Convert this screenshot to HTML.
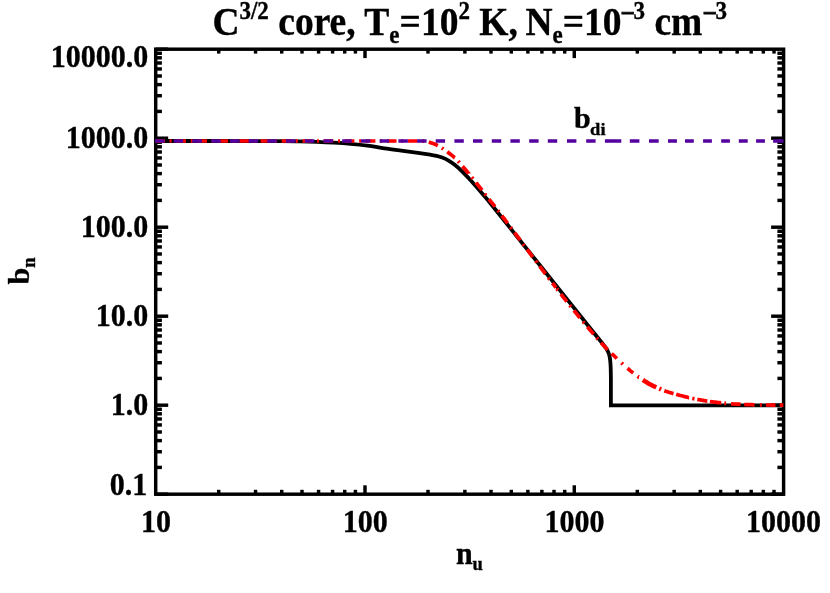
<!DOCTYPE html>
<html><head><meta charset="utf-8"><title>chart</title>
<style>html,body{margin:0;padding:0;background:#fff;}body{width:830px;height:593px;overflow:hidden;}svg{display:block;will-change:transform;}text{font-family:"Liberation Serif",serif;font-weight:bold;fill:#000;stroke:#000;stroke-width:0.35px;}</style>
</head><body>
<svg width="830" height="593" viewBox="0 0 830 593">
<rect x="0" y="0" width="830" height="593" fill="#ffffff"/>
<g stroke="#000" stroke-width="3.45" fill="none">
<line x1="218.71" y1="494.2" x2="218.71" y2="489.8"/>
<line x1="218.71" y1="49.2" x2="218.71" y2="53.6"/>
<line x1="255.56" y1="494.2" x2="255.56" y2="489.8"/>
<line x1="255.56" y1="49.2" x2="255.56" y2="53.6"/>
<line x1="281.71" y1="494.2" x2="281.71" y2="489.8"/>
<line x1="281.71" y1="49.2" x2="281.71" y2="53.6"/>
<line x1="301.99" y1="494.2" x2="301.99" y2="489.8"/>
<line x1="301.99" y1="49.2" x2="301.99" y2="53.6"/>
<line x1="318.57" y1="494.2" x2="318.57" y2="489.8"/>
<line x1="318.57" y1="49.2" x2="318.57" y2="53.6"/>
<line x1="332.58" y1="494.2" x2="332.58" y2="489.8"/>
<line x1="332.58" y1="49.2" x2="332.58" y2="53.6"/>
<line x1="344.72" y1="494.2" x2="344.72" y2="489.8"/>
<line x1="344.72" y1="49.2" x2="344.72" y2="53.6"/>
<line x1="355.42" y1="494.2" x2="355.42" y2="489.8"/>
<line x1="355.42" y1="49.2" x2="355.42" y2="53.6"/>
<line x1="365.00" y1="494.2" x2="365.00" y2="485.3"/>
<line x1="365.00" y1="49.2" x2="365.00" y2="58.1"/>
<line x1="428.01" y1="494.2" x2="428.01" y2="489.8"/>
<line x1="428.01" y1="49.2" x2="428.01" y2="53.6"/>
<line x1="464.86" y1="494.2" x2="464.86" y2="489.8"/>
<line x1="464.86" y1="49.2" x2="464.86" y2="53.6"/>
<line x1="491.01" y1="494.2" x2="491.01" y2="489.8"/>
<line x1="491.01" y1="49.2" x2="491.01" y2="53.6"/>
<line x1="511.29" y1="494.2" x2="511.29" y2="489.8"/>
<line x1="511.29" y1="49.2" x2="511.29" y2="53.6"/>
<line x1="527.87" y1="494.2" x2="527.87" y2="489.8"/>
<line x1="527.87" y1="49.2" x2="527.87" y2="53.6"/>
<line x1="541.88" y1="494.2" x2="541.88" y2="489.8"/>
<line x1="541.88" y1="49.2" x2="541.88" y2="53.6"/>
<line x1="554.02" y1="494.2" x2="554.02" y2="489.8"/>
<line x1="554.02" y1="49.2" x2="554.02" y2="53.6"/>
<line x1="564.72" y1="494.2" x2="564.72" y2="489.8"/>
<line x1="564.72" y1="49.2" x2="564.72" y2="53.6"/>
<line x1="574.30" y1="494.2" x2="574.30" y2="485.3"/>
<line x1="574.30" y1="49.2" x2="574.30" y2="58.1"/>
<line x1="637.31" y1="494.2" x2="637.31" y2="489.8"/>
<line x1="637.31" y1="49.2" x2="637.31" y2="53.6"/>
<line x1="674.16" y1="494.2" x2="674.16" y2="489.8"/>
<line x1="674.16" y1="49.2" x2="674.16" y2="53.6"/>
<line x1="700.31" y1="494.2" x2="700.31" y2="489.8"/>
<line x1="700.31" y1="49.2" x2="700.31" y2="53.6"/>
<line x1="720.59" y1="494.2" x2="720.59" y2="489.8"/>
<line x1="720.59" y1="49.2" x2="720.59" y2="53.6"/>
<line x1="737.17" y1="494.2" x2="737.17" y2="489.8"/>
<line x1="737.17" y1="49.2" x2="737.17" y2="53.6"/>
<line x1="751.18" y1="494.2" x2="751.18" y2="489.8"/>
<line x1="751.18" y1="49.2" x2="751.18" y2="53.6"/>
<line x1="763.32" y1="494.2" x2="763.32" y2="489.8"/>
<line x1="763.32" y1="49.2" x2="763.32" y2="53.6"/>
<line x1="774.02" y1="494.2" x2="774.02" y2="489.8"/>
<line x1="774.02" y1="49.2" x2="774.02" y2="53.6"/>
<line x1="155.7" y1="494.20" x2="168.2" y2="494.20"/>
<line x1="783.6" y1="494.20" x2="771.1" y2="494.20"/>
<line x1="155.7" y1="467.41" x2="161.89999999999998" y2="467.41"/>
<line x1="783.6" y1="467.41" x2="777.4" y2="467.41"/>
<line x1="155.7" y1="451.74" x2="161.89999999999998" y2="451.74"/>
<line x1="783.6" y1="451.74" x2="777.4" y2="451.74"/>
<line x1="155.7" y1="440.62" x2="161.89999999999998" y2="440.62"/>
<line x1="783.6" y1="440.62" x2="777.4" y2="440.62"/>
<line x1="155.7" y1="431.99" x2="161.89999999999998" y2="431.99"/>
<line x1="783.6" y1="431.99" x2="777.4" y2="431.99"/>
<line x1="155.7" y1="424.94" x2="161.89999999999998" y2="424.94"/>
<line x1="783.6" y1="424.94" x2="777.4" y2="424.94"/>
<line x1="155.7" y1="418.99" x2="161.89999999999998" y2="418.99"/>
<line x1="783.6" y1="418.99" x2="777.4" y2="418.99"/>
<line x1="155.7" y1="413.82" x2="161.89999999999998" y2="413.82"/>
<line x1="783.6" y1="413.82" x2="777.4" y2="413.82"/>
<line x1="155.7" y1="409.27" x2="161.89999999999998" y2="409.27"/>
<line x1="783.6" y1="409.27" x2="777.4" y2="409.27"/>
<line x1="155.7" y1="405.20" x2="168.2" y2="405.20"/>
<line x1="783.6" y1="405.20" x2="771.1" y2="405.20"/>
<line x1="155.7" y1="378.41" x2="161.89999999999998" y2="378.41"/>
<line x1="783.6" y1="378.41" x2="777.4" y2="378.41"/>
<line x1="155.7" y1="362.74" x2="161.89999999999998" y2="362.74"/>
<line x1="783.6" y1="362.74" x2="777.4" y2="362.74"/>
<line x1="155.7" y1="351.62" x2="161.89999999999998" y2="351.62"/>
<line x1="783.6" y1="351.62" x2="777.4" y2="351.62"/>
<line x1="155.7" y1="342.99" x2="161.89999999999998" y2="342.99"/>
<line x1="783.6" y1="342.99" x2="777.4" y2="342.99"/>
<line x1="155.7" y1="335.94" x2="161.89999999999998" y2="335.94"/>
<line x1="783.6" y1="335.94" x2="777.4" y2="335.94"/>
<line x1="155.7" y1="329.99" x2="161.89999999999998" y2="329.99"/>
<line x1="783.6" y1="329.99" x2="777.4" y2="329.99"/>
<line x1="155.7" y1="324.82" x2="161.89999999999998" y2="324.82"/>
<line x1="783.6" y1="324.82" x2="777.4" y2="324.82"/>
<line x1="155.7" y1="320.27" x2="161.89999999999998" y2="320.27"/>
<line x1="783.6" y1="320.27" x2="777.4" y2="320.27"/>
<line x1="155.7" y1="316.20" x2="168.2" y2="316.20"/>
<line x1="783.6" y1="316.20" x2="771.1" y2="316.20"/>
<line x1="155.7" y1="289.41" x2="161.89999999999998" y2="289.41"/>
<line x1="783.6" y1="289.41" x2="777.4" y2="289.41"/>
<line x1="155.7" y1="273.74" x2="161.89999999999998" y2="273.74"/>
<line x1="783.6" y1="273.74" x2="777.4" y2="273.74"/>
<line x1="155.7" y1="262.62" x2="161.89999999999998" y2="262.62"/>
<line x1="783.6" y1="262.62" x2="777.4" y2="262.62"/>
<line x1="155.7" y1="253.99" x2="161.89999999999998" y2="253.99"/>
<line x1="783.6" y1="253.99" x2="777.4" y2="253.99"/>
<line x1="155.7" y1="246.94" x2="161.89999999999998" y2="246.94"/>
<line x1="783.6" y1="246.94" x2="777.4" y2="246.94"/>
<line x1="155.7" y1="240.99" x2="161.89999999999998" y2="240.99"/>
<line x1="783.6" y1="240.99" x2="777.4" y2="240.99"/>
<line x1="155.7" y1="235.82" x2="161.89999999999998" y2="235.82"/>
<line x1="783.6" y1="235.82" x2="777.4" y2="235.82"/>
<line x1="155.7" y1="231.27" x2="161.89999999999998" y2="231.27"/>
<line x1="783.6" y1="231.27" x2="777.4" y2="231.27"/>
<line x1="155.7" y1="227.20" x2="168.2" y2="227.20"/>
<line x1="783.6" y1="227.20" x2="771.1" y2="227.20"/>
<line x1="155.7" y1="200.41" x2="161.89999999999998" y2="200.41"/>
<line x1="783.6" y1="200.41" x2="777.4" y2="200.41"/>
<line x1="155.7" y1="184.74" x2="161.89999999999998" y2="184.74"/>
<line x1="783.6" y1="184.74" x2="777.4" y2="184.74"/>
<line x1="155.7" y1="173.62" x2="161.89999999999998" y2="173.62"/>
<line x1="783.6" y1="173.62" x2="777.4" y2="173.62"/>
<line x1="155.7" y1="164.99" x2="161.89999999999998" y2="164.99"/>
<line x1="783.6" y1="164.99" x2="777.4" y2="164.99"/>
<line x1="155.7" y1="157.94" x2="161.89999999999998" y2="157.94"/>
<line x1="783.6" y1="157.94" x2="777.4" y2="157.94"/>
<line x1="155.7" y1="151.99" x2="161.89999999999998" y2="151.99"/>
<line x1="783.6" y1="151.99" x2="777.4" y2="151.99"/>
<line x1="155.7" y1="146.82" x2="161.89999999999998" y2="146.82"/>
<line x1="783.6" y1="146.82" x2="777.4" y2="146.82"/>
<line x1="155.7" y1="142.27" x2="161.89999999999998" y2="142.27"/>
<line x1="783.6" y1="142.27" x2="777.4" y2="142.27"/>
<line x1="155.7" y1="138.20" x2="168.2" y2="138.20"/>
<line x1="783.6" y1="138.20" x2="771.1" y2="138.20"/>
<line x1="155.7" y1="111.41" x2="161.89999999999998" y2="111.41"/>
<line x1="783.6" y1="111.41" x2="777.4" y2="111.41"/>
<line x1="155.7" y1="95.74" x2="161.89999999999998" y2="95.74"/>
<line x1="783.6" y1="95.74" x2="777.4" y2="95.74"/>
<line x1="155.7" y1="84.62" x2="161.89999999999998" y2="84.62"/>
<line x1="783.6" y1="84.62" x2="777.4" y2="84.62"/>
<line x1="155.7" y1="75.99" x2="161.89999999999998" y2="75.99"/>
<line x1="783.6" y1="75.99" x2="777.4" y2="75.99"/>
<line x1="155.7" y1="68.94" x2="161.89999999999998" y2="68.94"/>
<line x1="783.6" y1="68.94" x2="777.4" y2="68.94"/>
<line x1="155.7" y1="62.99" x2="161.89999999999998" y2="62.99"/>
<line x1="783.6" y1="62.99" x2="777.4" y2="62.99"/>
<line x1="155.7" y1="57.82" x2="161.89999999999998" y2="57.82"/>
<line x1="783.6" y1="57.82" x2="777.4" y2="57.82"/>
<line x1="155.7" y1="53.27" x2="161.89999999999998" y2="53.27"/>
<line x1="783.6" y1="53.27" x2="777.4" y2="53.27"/>
<line x1="155.7" y1="49.2" x2="168.2" y2="49.2"/>
<rect x="155.7" y="49.2" width="627.9000000000001" height="445.0" stroke-linejoin="miter"/>
</g>
<clipPath id="c"><rect x="155.0" y="49.2" width="628.6000000000001" height="445.0"/></clipPath>
<g clip-path="url(#c)" fill="none">
<path d="M156.00,141.00 C163.33,141.00 184.33,140.99 200.00,141.00 C215.67,141.01 236.67,141.02 250.00,141.05 C263.33,141.08 271.67,141.14 280.00,141.20 C288.33,141.26 293.85,141.28 300.00,141.40 C306.15,141.52 311.28,141.68 316.90,141.90 C322.52,142.12 328.08,142.37 333.70,142.70 C339.32,143.03 344.97,143.40 350.60,143.90 C356.23,144.40 361.88,144.97 367.50,145.70 C373.12,146.43 378.68,147.48 384.30,148.30 C389.92,149.12 395.58,149.85 401.20,150.60 C406.82,151.35 413.20,152.13 418.00,152.80 C422.80,153.47 426.92,154.08 430.00,154.60 C433.08,155.12 434.47,155.40 436.50,155.90 C438.53,156.40 440.25,156.85 442.20,157.60 C444.15,158.35 446.07,159.15 448.20,160.40 C450.33,161.65 452.73,163.32 455.00,165.10 C457.27,166.88 459.55,168.95 461.80,171.10 C464.05,173.25 466.25,175.60 468.50,178.00 C470.75,180.40 473.05,182.97 475.30,185.50 C477.55,188.03 479.88,190.73 482.00,193.20 C484.12,195.67 485.87,197.70 488.00,200.30 C490.13,202.90 489.47,202.12 494.80,208.80 C500.13,215.48 509.13,226.75 520.00,240.35 C530.87,253.95 548.33,275.79 560.00,290.40 C571.67,305.01 583.25,319.57 590.00,328.00 C596.75,336.43 597.83,337.63 600.50,341.00 C603.17,344.37 604.68,346.28 606.00,348.20 C607.32,350.12 607.80,351.12 608.40,352.50 C609.00,353.88 609.28,355.00 609.60,356.50 C609.92,358.00 610.12,359.58 610.30,361.50 C610.48,363.42 610.60,364.92 610.70,368.00 C610.80,371.08 610.87,373.78 610.90,380.00 C610.93,386.22 610.90,401.08 610.90,405.30 L783.6,405.3" stroke="#000" stroke-width="3.8" stroke-linejoin="miter"/>
<path d="M156.0,141.0 L159.3,141.0 L163.1,141.0 L164.9,141.0 M169.6,141.0 L171.6,141.0 M176.3,141.0 L182.9,141.0 L185.9,141.0 M190.7,141.0 L192.7,141.0 M197.4,141.0 L201.4,141.0 L207.0,141.0 M211.7,141.0 L213.7,141.0 M218.5,141.0 L221.8,141.0 L228.1,141.0 M232.8,141.0 L234.8,141.0 M239.5,141.0 L242.9,141.0 L249.1,141.0 M253.8,141.0 L255.8,141.0 M260.6,141.0 L263.7,141.0 L270.1,141.0 M274.9,141.0 L276.9,141.0 M281.6,141.0 L283.1,141.0 L289.1,141.0 L291.2,141.0 M295.9,141.0 L297.9,141.0 M302.6,141.0 L305.1,141.0 L310.1,141.0 L312.2,141.0 M317.0,141.0 L319.0,141.0 M323.7,141.0 L325.2,141.0 L330.1,141.0 L333.3,141.0 M338.0,141.0 L339.7,141.0 L340.0,141.0 M344.8,141.0 L349.1,141.0 L353.6,141.0 L354.4,141.0 M359.1,141.0 L361.1,141.0 M365.8,141.0 L370.7,141.0 L374.6,141.0 L375.4,141.0 M380.1,141.0 L382.0,141.0 L382.1,141.0 M386.9,141.0 L388.8,141.0 L391.9,141.0 L394.8,141.0 L396.5,141.0 M401.2,141.0 L403.2,141.0 M407.9,141.0 L409.9,141.0 L411.6,141.0 L413.1,141.0 L414.3,141.0 L415.8,141.0 L417.2,141.0 L417.5,141.0 M422.2,141.0 L423.5,141.1 L424.2,141.1 M428.8,142.1 L430.1,142.5 L431.3,142.9 L432.5,143.3 L433.8,143.7 L435.1,144.2 L436.4,144.8 L437.6,145.5 L437.8,145.6 M441.8,148.0 L443.0,148.8 L443.4,149.1 M447.3,151.8 L448.5,152.7 L449.5,153.5 L450.5,154.3 L451.6,155.1 L452.6,155.9 L453.5,156.7 L454.6,157.7 L454.8,157.8 M458.1,161.2 L459.1,162.3 L459.4,162.7 M462.5,166.3 L463.3,167.2 L464.2,168.3 L465.1,169.3 L466.0,170.3 L466.9,171.4 L467.8,172.5 L468.7,173.5 L468.7,173.6 M471.7,177.2 L472.8,178.5 L473.0,178.8 M476.0,182.5 L476.7,183.5 L477.5,184.4 L478.3,185.5 L479.1,186.5 L480.0,187.6 L480.9,188.7 L481.8,189.9 L481.9,190.1 M484.8,193.8 L485.6,194.8 L486.0,195.3 M488.9,199.1 L490.0,200.4 L491.3,202.1 L492.6,203.7 L494.0,205.4 L494.9,206.6 M497.8,210.3 L498.7,211.5 L499.0,211.9 M501.9,215.7 L503.2,217.5 L504.6,219.2 L505.9,221.0 L507.2,222.7 L507.7,223.3 M510.5,227.1 L511.2,228.1 L511.7,228.7 M514.5,232.5 L515.3,233.6 L516.7,235.4 L518.1,237.3 L519.5,239.2 L520.3,240.2 M523.1,244.0 L523.8,245.0 L524.2,245.6 M527.1,249.4 L528.1,250.7 L529.5,252.6 L530.9,254.5 L532.2,256.3 L532.8,257.1 M535.6,260.9 L536.8,262.4 L536.8,262.5 M539.7,266.2 L540.5,267.3 L541.7,268.9 L542.9,270.5 L544.2,272.1 L545.4,273.8 L545.5,273.9 M548.3,277.6 L549.3,279.0 L549.6,279.2 M552.4,283.0 L553.6,284.5 L555.0,286.4 L556.0,287.7 M556.8,288.7 L557.9,290.2 L558.0,290.3 M560.9,294.0 L562.1,295.6 L563.4,297.3 L564.7,298.9 L565.9,300.4 L566.8,301.6 M569.7,305.3 L570.7,306.5 L571.0,306.8 M573.9,310.5 L574.8,311.6 L575.8,312.8 L576.9,314.1 L578.0,315.5 L579.1,316.8 L580.0,318.0 M583.0,321.6 L584.2,323.0 L584.3,323.1 M587.3,326.8 L588.2,327.8 L589.4,329.2 L590.5,330.5 L591.7,331.9 L592.9,333.3 L593.6,334.1 M596.7,337.6 L597.8,338.9 L598.0,339.1 M601.1,342.7 L602.0,343.7 L603.2,344.9 L604.3,346.1 L605.3,347.2 L606.3,348.2 L607.2,349.2 L607.7,349.7 M611.6,353.5 L612.5,354.4 L613.7,355.4 L614.7,356.5 L615.8,357.5 L616.8,358.4 L616.9,358.5 M621.4,362.8 L622.5,363.8 L622.9,364.2 M627.5,368.3 L628.6,369.2 L629.6,370.1 L630.5,370.9 L631.5,371.6 L632.7,372.6 L633.2,373.0 M637.6,376.2 L638.8,377.1 L638.9,377.1 M664.3,390.7 L665.6,391.2 L666.9,391.6 L668.1,392.0 L669.4,392.4 L670.7,392.8 L672.1,393.2 L673.5,393.6 M676.2,394.3 L677.5,394.7 L679.0,395.1 L680.4,395.5 L681.9,395.8 L683.3,396.2 L684.8,396.6 L686.1,396.9 L687.5,397.3 L688.9,397.6 L689.1,397.6 M692.3,398.4 L693.8,398.7 L694.5,398.8 M697.3,399.4 L698.8,399.7 L700.2,399.9 L701.7,400.2 L703.1,400.4 L704.5,400.7 L705.9,400.9 L707.2,401.1 L707.3,401.1 M709.9,401.5 L711.1,401.7 L712.5,401.9 L714.0,402.1 L715.4,402.2 L716.8,402.4 L718.2,402.6 L719.6,402.7 L721.1,402.9 L721.3,402.9 M724.3,403.2 L725.6,403.4 L726.1,403.4 M731.0,403.8 L732.4,403.9 L733.8,404.0 L735.4,404.1 L736.6,404.1 L737.9,404.2 L739.3,404.2 L740.6,404.3 M744.2,404.5 L746.0,404.5 L747.5,404.6 L749.0,404.6 L750.5,404.7 L751.9,404.7 L753.3,404.8 L754.5,404.8 M759.9,404.9 L761.7,404.9 M765.9,405.0 L767.3,405.0 L768.7,405.0 L770.1,405.0 L771.6,405.1 L773.1,405.1 L774.6,405.1 L775.5,405.1 M779.8,405.2 L781.4,405.2 L782.9,405.2 L783.6,405.2" stroke="#ff0000" stroke-width="3.7"/>
<path d="M642.9,379.9 L644.2,380.8 L645.6,381.7 L646.9,382.5 L648.1,383.3 L649.2,383.9 L650.5,384.6 L651.8,385.2 L652.9,385.8 L654.2,386.4 L655.6,387.0 L656.3,387.3 M659.3,388.7 L660.5,389.2 L661.1,389.5" stroke="#ff0000" stroke-width="4.5"/>
<path d="M155.0,141H164.5 M173.7,141H183.2 M192.4,141H201.9 M211.2,141H220.7 M229.9,141H239.4 M248.6,141H258.1 M267.3,141H276.8 M286.0,141H295.5 M304.8,141H314.3 M323.5,141H333.0 M342.2,141H351.7 M360.9,141H370.4 M379.6,141H389.1 M398.4,141H407.9 M417.1,141H426.6 M435.7,141H445.1 M454.4,141H463.8 M473.0,141H482.4 M491.8,141H501.2 M510.4,141H519.8 M529.2,141H538.6 M547.8,141H557.2 M567.0,141H576.4 M586.2,141H595.6 M604.9,141H621.3 M629.8,141H639.4 M649.0,141H658.7 M668.0,141H676.9 M685.0,141H693.8 M703.1,141H711.9 M721.2,141H729.9 M738.8,141H747.7 M756.1,141H764.9 M773.1,141H783.6" stroke="#5400a0" stroke-width="3.6"/>
</g>
<text transform="translate(148.2,67.1) scale(1,1.08)" font-size="30" text-anchor="end">10000.0</text>
<text transform="translate(148.2,148.3) scale(1,1.08)" font-size="30" text-anchor="end">1000.0</text>
<text transform="translate(148.2,237.3) scale(1,1.08)" font-size="30" text-anchor="end">100.0</text>
<text transform="translate(148.2,326.3) scale(1,1.08)" font-size="30" text-anchor="end">10.0</text>
<text transform="translate(148.2,415.3) scale(1,1.08)" font-size="30" text-anchor="end">1.0</text>
<text transform="translate(147.3,494.8) scale(1,1.08)" font-size="30" text-anchor="end">0.1</text>
<text transform="translate(156,531.8) scale(1,1.08)" font-size="30" text-anchor="middle">10</text>
<text transform="translate(365.2,531.8) scale(1,1.08)" font-size="30" text-anchor="middle">100</text>
<text transform="translate(574.4,531.8) scale(1,1.08)" font-size="30" text-anchor="middle">1000</text>
<text transform="translate(783.6,531.8) scale(1,1.08)" font-size="30" text-anchor="middle">10000</text>
<text transform="translate(212.4,34.8) scale(1,1.09)" font-size="37.5" text-anchor="start">C<tspan font-size="23" dy="-14.8">3/2</tspan><tspan dy="14.8"> core, T</tspan><tspan font-size="23" dy="7.5">e</tspan><tspan dy="-7.5">=10</tspan><tspan font-size="23" dy="-14.8">2</tspan><tspan dy="14.8"> K,</tspan><tspan dx="-1.8"> N</tspan><tspan font-size="23" dy="7.5">e</tspan><tspan dy="-7.5">=10</tspan><tspan font-size="23" dy="-14.8" dx="0.5" stroke="#000" stroke-width="0.7">–</tspan><tspan font-size="23">3</tspan><tspan dy="14.8" dx="0"> cm</tspan><tspan font-size="23" dy="-14.8" dx="1.6" stroke="#000" stroke-width="0.7">–</tspan><tspan font-size="23">3</tspan></text>
<text transform="translate(455.9,563.7) scale(1,1.04)" font-size="30" text-anchor="start">n<tspan font-size="18.5" dy="6.5">u</tspan></text>
<text transform="translate(28.8,284.4) rotate(-90) scale(1,0.99)" font-size="30" text-anchor="start">b<tspan font-size="18.5" dy="6.6">n</tspan></text>
<text transform="translate(574.0,128.0) scale(1,0.967)" font-size="30" text-anchor="start">b</text>
<text transform="translate(590.1,134.9) scale(1,0.96)" font-size="18.5" text-anchor="start">di</text>
</svg></body></html>
